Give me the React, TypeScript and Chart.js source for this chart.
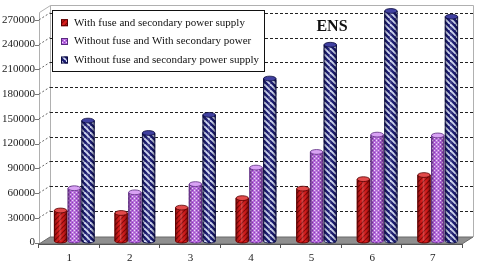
import React, { useEffect, useRef } from "react";
import { Chart, registerables } from "chart.js";
Chart.register(...registerables);

const categories = ["1", "2", "3", "4", "5", "6", "7"];
const withFuseAndSecondary = [37000, 34000, 40500, 52000, 63500, 75000, 80000];
const withoutFuseWithSecondary = [64000, 59000, 69000, 89000, 108000, 129000, 128000];
const withoutFuseAndSecondary = [146000, 131000, 153000, 197000, 238000, 279000, 272000];
const seriesLabels = [
  "With fuse and secondary power supply",
  "Without fuse and With secondary power",
  "Without fuse and secondary power supply",
];
const yTickValues = [0, 30000, 60000, 90000, 120000, 150000, 180000, 210000, 240000, 270000];
const chartTitle = "ENS";

const SERIF = "'Liberation Serif', 'Times New Roman', serif";

function makePattern(kind: string): CanvasPattern {
  const c = document.createElement("canvas");
  const g = c.getContext("2d")!;
  if (kind === "red") {
    c.width = 5; c.height = 5;
    g.fillStyle = "#d81c1c";
    g.fillRect(0, 0, 5, 5);
    g.strokeStyle = "#8a0808";
    g.lineWidth = 1.2;
    for (const k of [-5, 0, 5]) {
      g.beginPath(); g.moveTo(k, 5); g.lineTo(k + 5, 0); g.stroke();
    }
  } else if (kind === "purple") {
    c.width = 4; c.height = 4;
    g.fillStyle = "#bb6ae4";
    g.fillRect(0, 0, 4, 4);
    g.fillStyle = "#f4e0ff";
    g.fillRect(0, 0, 1, 1);
    g.fillRect(2, 2, 1, 1);
    g.fillStyle = "#8a44b4";
    g.fillRect(2, 0, 1, 1);
    g.fillRect(0, 2, 1, 1);
  } else {
    c.width = 6; c.height = 6;
    g.fillStyle = "#1b1b74";
    g.fillRect(0, 0, 6, 6);
    g.strokeStyle = "#d4dbf6";
    g.lineWidth = 1.9;
    for (const k of [-6, 0, 6]) {
      g.beginPath(); g.moveTo(k, 0); g.lineTo(k + 6, 6); g.stroke();
    }
  }
  return g.createPattern(c, "repeat")!;
}

const topColors = ["#e24a4a", "#d9a2f4", "#4040a0"];
const edgeColors = ["#560000", "#5a2a80", "#0a0a3c"];

const FRONT_X = 39;
const DX = 11;
const DY = 7;
const WALL_RIGHT = 473;
const WALL_TOP = 5;
const FLOOR_FRONT = 244;
const FLOOR_BACK = 237;

export default function App() {
  const ref = useRef<HTMLCanvasElement | null>(null);
  useEffect(() => {
    const canvas = ref.current!;
    const patterns = [makePattern("red"), makePattern("purple"), makePattern("blue")];

    const decor = {
      id: "decor3d",
      beforeDatasetsDraw(chart: any) {
        const ctx = chart.ctx as CanvasRenderingContext2D;
        const ys = chart.scales.y;
        ctx.save();
        ctx.fillStyle = "#ffffff";
        ctx.fillRect(FRONT_X + DX, WALL_TOP, WALL_RIGHT - FRONT_X - DX, FLOOR_BACK - WALL_TOP);
        ctx.strokeStyle = "#b0b0b0";
        ctx.lineWidth = 1;
        ctx.beginPath();
        ctx.moveTo(FRONT_X + DX + 0.5, FLOOR_BACK);
        ctx.lineTo(FRONT_X + DX + 0.5, WALL_TOP + 0.5);
        ctx.lineTo(WALL_RIGHT + 0.5, WALL_TOP + 0.5);
        ctx.lineTo(WALL_RIGHT + 0.5, FLOOR_BACK);
        ctx.stroke();
        ctx.beginPath();
        ctx.moveTo(FRONT_X + 0.5, FLOOR_FRONT);
        ctx.lineTo(FRONT_X + 0.5, WALL_TOP + DY + 0.5);
        ctx.lineTo(FRONT_X + DX + 0.5, WALL_TOP + 0.5);
        ctx.stroke();
        ctx.font = `11px ${SERIF}`;
        ctx.fillStyle = "#222";
        ctx.textAlign = "right";
        ctx.textBaseline = "middle";
        for (const v of yTickValues) {
          const fy = ys.getPixelForValue(v) + 1.5;
          const by = fy - DY;
          ctx.strokeStyle = "#777";
          ctx.setLineDash([]);
          ctx.beginPath();
          ctx.moveTo(FRONT_X - 4, Math.round(fy) + 0.5);
          ctx.lineTo(FRONT_X, Math.round(fy) + 0.5);
          ctx.stroke();
          if (v > 0) {
            ctx.setLineDash([2, 2]);
            ctx.strokeStyle = "#666";
            ctx.beginPath();
            ctx.moveTo(FRONT_X, fy);
            ctx.lineTo(FRONT_X + DX, by);
            ctx.stroke();
            ctx.strokeStyle = "#222";
            ctx.setLineDash([3, 2]);
            ctx.beginPath();
            ctx.moveTo(FRONT_X + DX, Math.round(by) + 0.5);
            ctx.lineTo(WALL_RIGHT, Math.round(by) + 0.5);
            ctx.stroke();
          }
          ctx.setLineDash([]);
          ctx.fillText(String(v), FRONT_X - 4, fy);
        }
        ctx.fillStyle = "#8f8f8f";
        ctx.beginPath();
        ctx.moveTo(FRONT_X, FLOOR_FRONT);
        ctx.lineTo(FRONT_X + DX, FLOOR_BACK);
        ctx.lineTo(WALL_RIGHT, FLOOR_BACK);
        ctx.lineTo(WALL_RIGHT - DX, FLOOR_FRONT);
        ctx.closePath();
        ctx.fill();
        ctx.strokeStyle = "#6a6a6a";
        ctx.stroke();
        ctx.strokeStyle = "#555";
        ctx.beginPath();
        ctx.moveTo(FRONT_X, FLOOR_FRONT + 0.5);
        ctx.lineTo(WALL_RIGHT - DX, FLOOR_FRONT + 0.5);
        ctx.stroke();
        ctx.restore();
      },
      afterDatasetsDraw(chart: any) {
        const ctx = chart.ctx as CanvasRenderingContext2D;
        const xs = chart.scales.x;
        ctx.save();
        chart.data.datasets.forEach((_: any, di: number) => {
          const meta = chart.getDatasetMeta(di);
          meta.data.forEach((el: any) => {
            const { x, y, base, width } = el.getProps(["x", "y", "base", "width"], true);
            const left = x - width / 2;
            const g = ctx.createLinearGradient(left, 0, left + width, 0);
            g.addColorStop(0, "rgba(0,0,0,0.4)");
            g.addColorStop(0.3, "rgba(0,0,0,0.0)");
            g.addColorStop(0.45, "rgba(255,255,255,0.2)");
            g.addColorStop(0.7, "rgba(0,0,0,0.03)");
            g.addColorStop(1, "rgba(0,0,0,0.45)");
            ctx.fillStyle = g;
            ctx.fillRect(left, y, width, base - y);
            ctx.fillStyle = patterns[di];
            ctx.beginPath();
            ctx.ellipse(x, base, width / 2, 2, 0, 0, Math.PI);
            ctx.fill();
            ctx.strokeStyle = edgeColors[di];
            ctx.lineWidth = 0.8;
            ctx.beginPath();
            ctx.moveTo(left + 0.4, y);
            ctx.lineTo(left + 0.4, base);
            ctx.ellipse(x, base, width / 2 - 0.4, 2, 0, Math.PI, 0, true);
            ctx.lineTo(left + width - 0.4, y);
            ctx.stroke();
            ctx.fillStyle = topColors[di];
            ctx.beginPath();
            ctx.ellipse(x, y, width / 2 - 0.4, 2.4, 0, 0, Math.PI * 2);
            ctx.fill();
            ctx.stroke();
          });
        });
        ctx.strokeStyle = "#555";
        ctx.lineWidth = 1;
        const n = categories.length;
        const step = n > 1 ? xs.getPixelForValue(1) - xs.getPixelForValue(0) : xs.width;
        for (let i = 0; i <= n; i++) {
          const bx = Math.round(xs.getPixelForValue(0) - step / 2 + i * step - 6) + 0.5;
          ctx.beginPath();
          ctx.moveTo(bx, FLOOR_FRONT);
          ctx.lineTo(bx, FLOOR_FRONT + 4);
          ctx.stroke();
        }
        ctx.font = `11px ${SERIF}`;
        ctx.fillStyle = "#222";
        ctx.textAlign = "center";
        ctx.textBaseline = "middle";
        categories.forEach((c, i) => {
          ctx.fillText(c, xs.getPixelForValue(i) - 5, 258);
        });
        ctx.font = `bold 16px ${SERIF}`;
        ctx.fillStyle = "#111";
        ctx.fillText(chartTitle, 332, 27);
        ctx.fillStyle = "#fff";
        ctx.fillRect(52, 10, 212, 61);
        ctx.strokeStyle = "#111";
        ctx.strokeRect(52.5, 10.5, 212, 61);
        ctx.font = `11px ${SERIF}`;
        ctx.textAlign = "left";
        const rows = [22.7, 41.5, 60];
        seriesLabels.forEach((lab, i) => {
          const ry = rows[i];
          ctx.fillStyle = patterns[i];
          ctx.fillRect(61, ry - 3.5, 7, 7);
          ctx.strokeStyle = edgeColors[i];
          ctx.strokeRect(61.5, ry - 3, 6, 6);
          ctx.fillStyle = "#111";
          ctx.fillText(lab, 74, ry);
        });
        ctx.restore();
      },
    };

    const chart = new Chart(canvas, {
      type: "bar",
      data: {
        labels: categories,
        datasets: [
          { label: seriesLabels[0], data: withFuseAndSecondary, backgroundColor: patterns[0] as any, borderWidth: 0 },
          { label: seriesLabels[1], data: withoutFuseWithSecondary, backgroundColor: patterns[1] as any, borderWidth: 0 },
          { label: seriesLabels[2], data: withoutFuseAndSecondary, backgroundColor: patterns[2] as any, borderWidth: 0 },
        ],
      },
      options: {
        animation: false,
        responsive: false,
        maintainAspectRatio: false,
        layout: { padding: { left: 44, right: 12, top: 6, bottom: 29 } },
        datasets: { bar: { categoryPercentage: 0.68, barPercentage: 0.96 } } as any,
        scales: {
          x: { type: "category", display: false, offset: true },
          y: { display: false, min: 0, max: 285000, ticks: { stepSize: 30000 } },
        },
        plugins: { legend: { display: false }, title: { display: false }, tooltip: { enabled: false } },
      },
      plugins: [decor],
    });
    return () => chart.destroy();
  }, []);

  return (
    <div style={{ position: "fixed", left: 0, top: 0, width: 480, height: 270, background: "#fff" }}>
      <canvas ref={ref} width={480} height={270} style={{ width: 480, height: 270, display: "block" }} />
    </div>
  );
}
